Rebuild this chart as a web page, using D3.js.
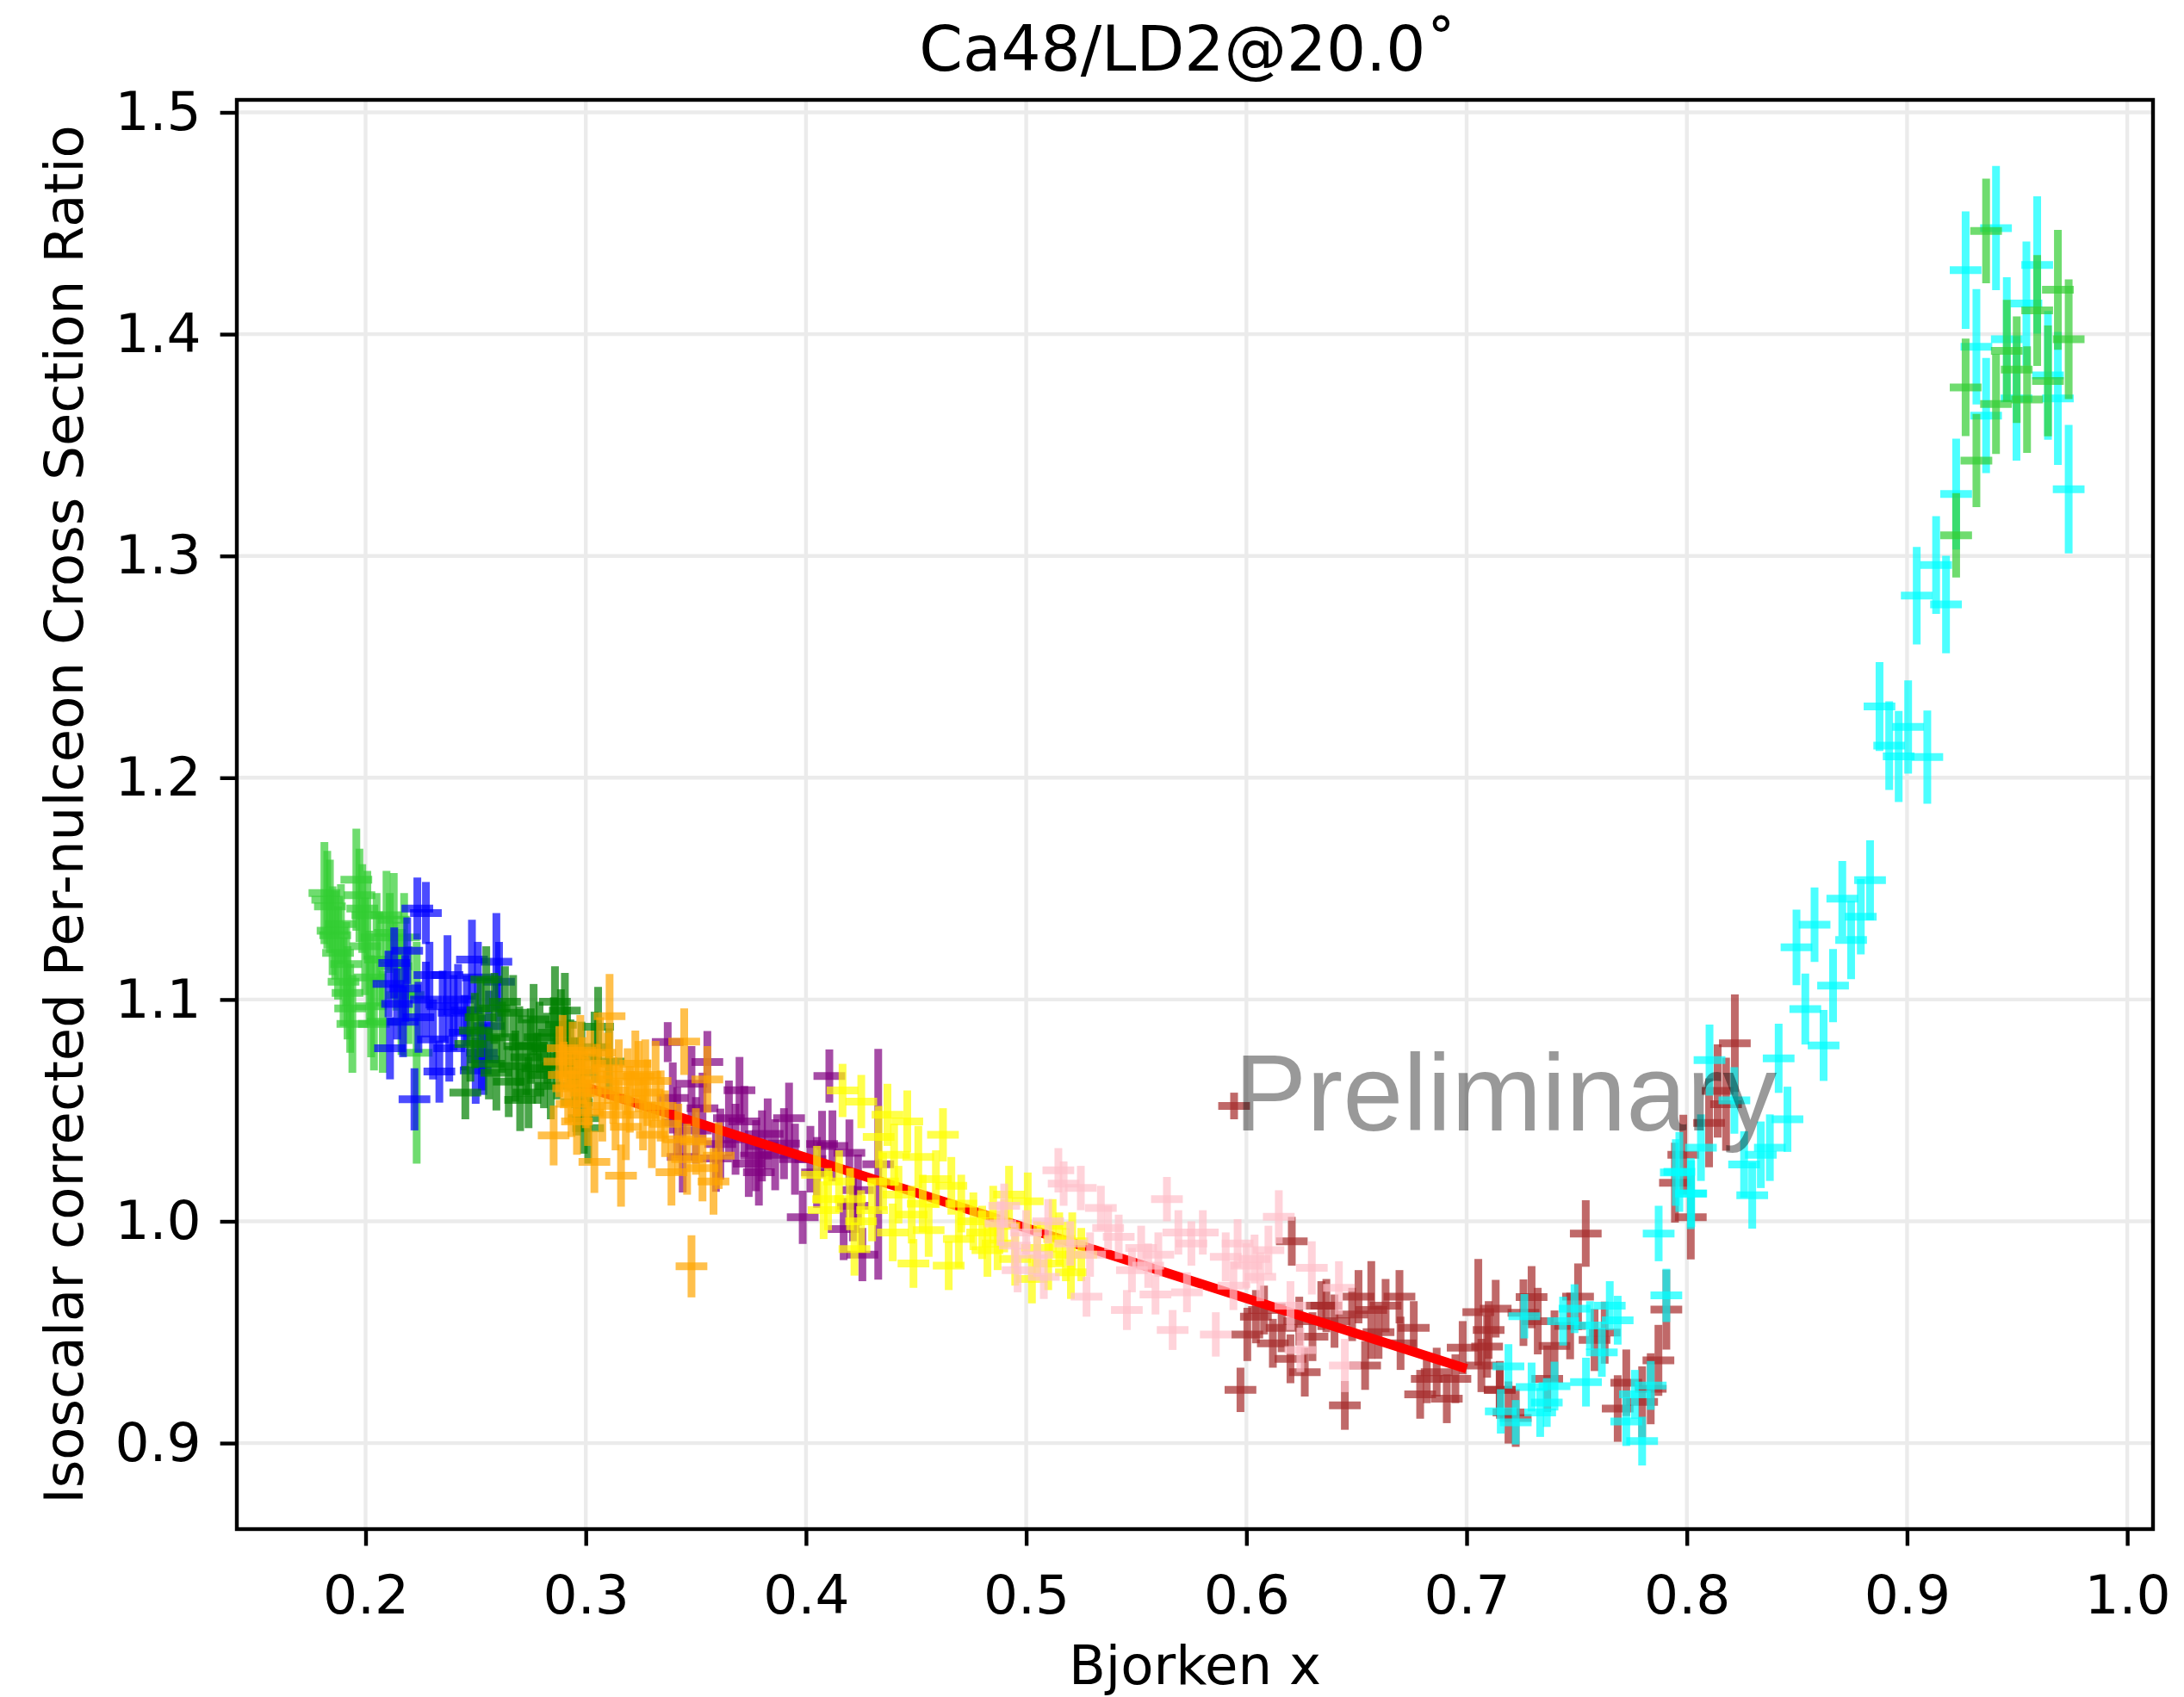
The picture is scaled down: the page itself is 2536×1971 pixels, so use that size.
<!DOCTYPE html>
<html>
<head>
<meta charset="utf-8">
<script src="https://cdn.jsdelivr.net/npm/d3@7"></script>
<style>
  html, body { margin: 0; padding: 0; background: #ffffff; }
  svg { display: block; }
</style>
</head>
<body>
<svg id="chart" width="2536" height="1971"></svg>
<script>
// Ca48 / LD2 isoscalar-corrected per-nucleon cross-section ratio at 20 degrees.
// One series per spectrometer momentum setting; each point is [x_Bj, ratio, ratio uncertainty].

const setA = [ // limegreen, lowest momentum setting
  [0.1813,1.148,0.023],[0.1826,1.145,0.022],[0.1838,1.142,0.021],[0.1850,1.131,0.020],
  [0.1862,1.129,0.020],[0.1875,1.121,0.021],[0.1888,1.134,0.018],[0.1900,1.108,0.020],
  [0.1912,1.116,0.019],[0.1918,1.103,0.021],[0.1930,1.096,0.020],[0.1940,1.089,0.022],
  [0.1958,1.154,0.023],[0.1972,1.147,0.021],[0.1985,1.141,0.020],[0.1998,1.124,0.022],
  [0.2008,1.138,0.020],[0.2018,1.110,0.021],[0.2025,1.097,0.023],[0.2038,1.089,0.021],
  [0.2050,1.128,0.020],[0.2065,1.118,0.021],[0.2078,1.090,0.023],[0.2095,1.138,0.020],
  [0.2110,1.130,0.018],[0.2128,1.136,0.021],[0.2140,1.115,0.020],[0.2163,1.102,0.027],
  [0.2175,1.128,0.020],[0.2195,1.102,0.022],[0.2232,1.076,0.050]
];
const setB = [ // blue
  [0.2104,1.107,0.015],[0.2111,1.078,0.014],[0.2130,1.1165,0.016],[0.2143,1.098,0.016],
  [0.2170,1.090,0.016],[0.2180,1.105,0.015],[0.2189,1.122,0.015],[0.2222,1.055,0.014],
  [0.2235,1.141,0.014],[0.2240,1.092,0.016],[0.2274,1.139,0.014],[0.2274,1.100,0.017],
  [0.2290,1.111,0.015],[0.2306,1.082,0.018],[0.2335,1.0675,0.014],[0.2350,1.097,0.016],
  [0.2372,1.111,0.018],[0.2380,1.078,0.015],[0.2400,1.094,0.017],[0.2420,1.100,0.016],
  [0.2450,1.085,0.017],[0.2460,1.095,0.016],[0.2483,1.118,0.018],[0.2500,1.068,0.015],
  [0.2510,1.110,0.016],[0.2528,1.076,0.017],[0.2535,1.073,0.016],[0.2560,1.088,0.016],
  [0.2594,1.117,0.022],[0.2606,1.108,0.018]
];
const setC = [ // green
  [0.2453,1.058,0.012],[0.2476,1.080,0.017],[0.2496,1.086,0.017],[0.2522,1.092,0.018],
  [0.2548,1.109,0.015],[0.2560,1.071,0.016],[0.2585,1.096,0.016],[0.2594,1.067,0.017],
  [0.2620,1.083,0.016],[0.2633,1.099,0.016],[0.2650,1.063,0.016],[0.2670,1.094,0.017],
  [0.2680,1.070,0.016],[0.2698,1.079,0.018],[0.2702,1.0547,0.014],[0.2730,1.074,0.017],
  [0.2740,1.058,0.016],[0.2750,1.079,0.017],[0.2763,1.091,0.016],[0.2780,1.069,0.016],
  [0.2790,1.083,0.016],[0.2810,1.066,0.015],[0.2825,1.078,0.016],[0.2841,1.061,0.015],
  [0.2855,1.085,0.016],[0.2860,1.099,0.016],[0.2870,1.070,0.015],[0.2887,1.0886,0.016],
  [0.2905,1.095,0.017],[0.2915,1.081,0.016],[0.2930,1.075,0.016],[0.2950,1.067,0.016],
  [0.2959,1.0537,0.015],[0.2980,1.074,0.016],[0.2991,1.0465,0.016],[0.3011,1.042,0.016],
  [0.3040,1.0785,0.016],[0.3056,1.0877,0.018],[0.3105,1.072,0.015]
];
const setD = [ // orange
  [0.2854,1.0387,0.0135],[0.2880,1.072,0.016],[0.2895,1.078,0.015],[0.2900,1.066,0.015],
  [0.2920,1.060,0.016],[0.2935,1.053,0.015],[0.2940,1.075,0.015],[0.2960,1.062,0.015],
  [0.2960,1.045,0.015],[0.2975,1.077,0.016],[0.2985,1.068,0.015],[0.3000,1.058,0.016],
  [0.3010,1.049,0.015],[0.3020,1.071,0.015],[0.3039,1.0268,0.014],[0.3050,1.064,0.016],
  [0.3065,1.076,0.016],[0.3075,1.052,0.016],[0.3100,1.069,0.016],[0.3108,1.0925,0.019],
  [0.3125,1.059,0.015],[0.3135,1.048,0.016],[0.3150,1.066,0.016],[0.3160,1.0206,0.014],
  [0.3182,1.0426,0.015],[0.3190,1.063,0.015],[0.3200,1.055,0.015],[0.3225,1.071,0.015],
  [0.3239,1.0653,0.016],[0.3260,1.048,0.016],[0.3270,1.066,0.016],[0.3280,1.058,0.015],
  [0.3300,1.039,0.015],[0.3317,1.0633,0.018],[0.3340,1.052,0.016],[0.3360,1.044,0.015],
  [0.3389,1.0221,0.015],[0.3420,1.037,0.016],[0.3447,1.081,0.015],[0.3460,1.028,0.016],
  [0.3480,0.9797,0.014],[0.3500,1.036,0.015],[0.3530,1.024,0.015],[0.3552,1.064,0.015],
  [0.3580,1.018,0.015],[0.3604,1.0296,0.015]
];
const setE = [ // purple
  [0.3372,1.0808,0.009],[0.3395,1.0556,0.016],[0.3415,1.0445,0.016],[0.3440,1.029,0.016],
  [0.3480,1.062,0.017],[0.3500,1.041,0.015],[0.3530,1.051,0.016],[0.3552,1.0718,0.014],
  [0.3591,1.0283,0.015],[0.3611,1.0348,0.016],[0.3650,1.0465,0.017],[0.3680,1.037,0.016],
  [0.3698,1.0591,0.015],[0.3720,1.045,0.016],[0.3740,1.026,0.015],[0.3773,1.0296,0.016],
  [0.3786,1.0221,0.015],[0.3800,1.034,0.016],[0.3826,1.0394,0.016],[0.3860,1.030,0.016],
  [0.3900,1.035,0.016],[0.3923,1.0465,0.016],[0.3950,1.028,0.016],[0.3985,1.0018,0.012],
  [0.4020,1.028,0.015],[0.4050,1.022,0.016],[0.4073,1.0348,0.015],[0.4106,1.0655,0.012],
  [0.4120,1.034,0.016],[0.4171,0.9965,0.014],[0.4197,1.0309,0.015],[0.4213,1.0070,0.016],
  [0.4236,1.0141,0.016],[0.4256,0.985,0.012],[0.4328,1.0257,0.052]
];
const setF = [ // yellow
  [0.4050,1.021,0.013],[0.4080,1.005,0.013],[0.4100,1.010,0.014],[0.4150,1.018,0.014],
  [0.4166,1.059,0.012],[0.4200,1.010,0.014],[0.4220,0.9875,0.012],[0.4250,1.000,0.014],
  [0.4251,1.054,0.012],[0.4300,1.005,0.014],[0.4330,1.038,0.014],[0.4350,1.018,0.013],
  [0.4370,1.048,0.014],[0.4394,0.995,0.013],[0.4400,1.030,0.014],[0.4420,1.012,0.013],
  [0.4460,1.045,0.014],[0.4480,1.003,0.013],[0.4488,0.981,0.011],[0.4510,1.029,0.014],
  [0.4530,1.008,0.013],[0.4557,0.996,0.012],[0.4590,1.019,0.013],[0.4622,1.039,0.012],
  [0.4648,0.980,0.011],[0.4660,1.016,0.013],[0.4694,0.992,0.013],[0.4705,1.008,0.013],
  [0.4760,1.000,0.013],[0.4800,0.995,0.012],[0.4824,0.987,0.012],[0.4850,1.003,0.013],
  [0.4870,0.990,0.012],[0.4900,0.998,0.012],[0.4922,1.012,0.013],[0.4950,0.983,0.012],
  [0.5007,1.009,0.013],[0.5026,0.974,0.011],[0.5050,0.988,0.012],[0.5100,0.981,0.012],
  [0.5120,0.998,0.012],[0.5150,0.992,0.012],[0.5180,0.985,0.012],[0.5203,0.977,0.012],
  [0.5209,0.991,0.013],[0.5250,0.985,0.012]
];
const setG = [ // pink
  [0.4883,0.999,0.010],[0.4900,1.007,0.010],[0.4948,0.989,0.010],[0.4961,0.978,0.010],
  [0.5000,0.995,0.010],[0.5050,0.985,0.010],[0.5080,0.975,0.010],[0.5100,1.000,0.010],
  [0.5146,1.023,0.010],[0.5170,1.017,0.010],[0.5200,0.990,0.010],[0.5248,1.015,0.010],
  [0.5274,0.966,0.009],[0.5290,0.985,0.010],[0.5339,1.006,0.010],[0.5372,0.997,0.010],
  [0.5420,0.993,0.010],[0.5457,0.960,0.009],[0.5480,0.978,0.010],[0.5522,0.988,0.010],
  [0.5554,0.980,0.010],[0.5587,0.967,0.009],[0.5600,0.985,0.010],[0.5639,1.010,0.010],
  [0.5665,0.951,0.009],[0.5691,0.995,0.010],[0.5730,0.968,0.009],[0.5750,0.990,0.010],
  [0.5802,0.995,0.010],[0.5861,0.949,0.010],[0.5906,0.984,0.011],[0.5941,0.971,0.011],
  [0.5960,0.990,0.011],[0.6000,0.980,0.010],[0.6037,0.983,0.011],[0.6063,0.975,0.011],
  [0.6100,0.987,0.011],[0.6147,1.002,0.012],[0.6200,0.962,0.011],[0.6245,0.942,0.010],
  [0.6297,0.979,0.012],[0.6420,0.970,0.012],[0.6447,0.935,0.012]
];
const setH = [ // brown
  [0.5944,1.052,0.006],[0.5973,0.924,0.010],[0.6004,0.949,0.012],[0.6043,0.957,0.012],
  [0.6080,0.960,0.011],[0.6120,0.945,0.011],[0.6160,0.952,0.011],[0.6200,0.938,0.011],
  [0.6206,0.991,0.011],[0.6240,0.955,0.011],[0.6265,0.932,0.011],[0.6300,0.948,0.011],
  [0.6340,0.962,0.011],[0.6363,0.962,0.012],[0.6400,0.955,0.012],[0.6447,0.917,0.011],
  [0.6480,0.958,0.012],[0.6509,0.966,0.012],[0.6539,0.935,0.011],[0.6567,0.960,0.022],
  [0.6600,0.950,0.012],[0.6632,0.962,0.012],[0.6695,0.966,0.012],[0.6700,0.945,0.012],
  [0.6760,0.952,0.012],[0.6789,0.922,0.011],[0.6819,0.929,0.011],[0.6864,0.932,0.011],
  [0.6910,0.920,0.011],[0.6949,0.929,0.011],[0.6982,0.943,0.012],[0.7053,0.959,0.024],
  [0.7067,0.935,0.012],[0.7093,0.9435,0.014],[0.7100,0.951,0.013],[0.7132,0.9606,0.013],
  [0.7150,0.924,0.011],[0.7151,0.924,0.013],[0.7190,0.9138,0.014],[0.7223,0.9113,0.013],
  [0.7258,0.9588,0.015],[0.7295,0.9658,0.014],[0.7323,0.955,0.015],[0.7366,0.929,0.015],
  [0.7399,0.9438,0.016],[0.7470,0.9528,0.015],[0.7506,0.966,0.015],[0.7541,0.9945,0.015],
  [0.7581,0.9465,0.014],[0.7627,0.9498,0.014],[0.7686,0.9156,0.015],[0.7725,0.9272,0.015],
  [0.7797,0.9186,0.016],[0.7836,0.9245,0.016],[0.7871,0.9373,0.016],[0.7907,0.9602,0.018],
  [0.7946,1.0174,0.018],[0.7984,1.030,0.018],[0.8018,1.0018,0.019],[0.8101,1.0444,0.020],
  [0.8140,1.0588,0.021],[0.8178,1.0528,0.021],[0.8218,1.0803,0.022]
];
const setI = [ // cyan
  [0.7155,0.9143,0.010],[0.7190,0.9346,0.010],[0.7223,0.9094,0.010],[0.7262,0.9572,0.010],
  [0.7295,0.9253,0.011],[0.7334,0.9138,0.011],[0.7364,0.9183,0.011],[0.7399,0.9257,0.011],
  [0.7438,0.955,0.011],[0.7490,0.9606,0.011],[0.7542,0.9275,0.011],[0.7560,0.953,0.011],
  [0.7614,0.9409,0.011],[0.7650,0.962,0.011],[0.7686,0.9554,0.011],[0.7725,0.9097,0.011],
  [0.7764,0.922,0.011],[0.7797,0.9009,0.011],[0.7836,0.926,0.011],[0.7872,0.9945,0.0125],
  [0.7907,0.9666,0.012],[0.7950,1.022,0.015],[0.7966,1.0223,0.018],[0.8018,1.0125,0.016],
  [0.8020,1.0125,0.015],[0.8064,1.0332,0.015],[0.8103,1.0727,0.016],[0.8216,1.0545,0.015],
  [0.8260,1.0256,0.015],[0.8297,1.0117,0.015],[0.8336,1.030,0.015],[0.8377,1.0332,0.015],
  [0.8417,1.0735,0.0156],[0.8457,1.046,0.0147],[0.8498,1.1235,0.017],[0.8538,1.0957,0.016],
  [0.8580,1.1337,0.0168],[0.8621,1.0793,0.016],[0.8664,1.1063,0.0165],[0.8706,1.1455,0.017],
  [0.8746,1.1268,0.0176],[0.8790,1.1373,0.017],[0.8832,1.1538,0.018],[0.8875,1.2321,0.020],
  [0.8919,1.2145,0.020],[0.8962,1.2096,0.0205],[0.9005,1.2229,0.021],[0.9044,1.2821,0.022],
  [0.9092,1.2093,0.021],[0.9132,1.2959,0.022],[0.9177,1.2781,0.022],[0.9223,1.3279,0.025],
  [0.9266,1.4289,0.0265],[0.9315,1.3943,0.026],[0.9359,1.3633,0.026],[0.9404,1.4478,0.028],
  [0.9453,1.3977,0.028],[0.9497,1.371,0.028],[0.9542,1.4138,0.028],[0.9591,1.4312,0.031],
  [0.9640,1.3814,0.029],[0.9685,1.371,0.030],[0.9734,1.3301,0.029]
];
const setJ = [ // limegreen, highest momentum setting
  [0.9223,1.3093,0.019],[0.9266,1.376,0.022],[0.9315,1.343,0.021],[0.9359,1.4465,0.0236],
  [0.9404,1.3685,0.0225],[0.9453,1.3925,0.023],[0.9498,1.384,0.024],[0.9545,1.3705,0.024],
  [0.9591,1.4107,0.025],[0.9640,1.3789,0.025],[0.9685,1.420,0.027],[0.9734,1.3977,0.027]
];

const seriesColors = ["limegreen", "blue", "green", "orange", "purple",
                      "yellow", "pink", "brown", "cyan", "limegreen"];
const xHalfBin = 0.0072;            // half bin width in x, drawn as the horizontal bar

// Linear fit over 0.3 < x < 0.7
const fitX = [0.30, 0.70];
const fitY = [1.0605, 0.9335];

const xTicks = [0.2, 0.3, 0.4, 0.5, 0.6, 0.7, 0.8, 0.9, 1.0];
const yTicks = [0.9, 1.0, 1.1, 1.2, 1.3, 1.4, 1.5];

const titleText = "Ca48/LD2@20.0\u02DA";
const xLabel = "Bjorken x";
const yLabel = "Isoscalar corrected Per-nulceon Cross Section Ratio";
const watermark = "Preliminary";

// ---- layout ----
const W = 2536, H = 1971;
const plot = { left: 275, right: 2500, top: 116, bottom: 1776 };
const lw = 4.4;            // spine / tick width
const tickLen = 19.4;
const fontMain = "'DejaVu Sans', sans-serif";

const svg = d3.select("#chart");
svg.append("rect").attr("width", W).attr("height", H).attr("fill", "#ffffff");

const x = d3.scaleLinear().domain([0.14153, 1.01169]).range([plot.left, plot.right]);
const y = d3.scaleLinear().domain([0.86122, 1.50563]).range([plot.bottom, plot.top]);

// grid
const grid = svg.append("g").attr("class", "grid");
grid.selectAll("line.gx").data(xTicks).join("line")
  .attr("x1", d => x(d)).attr("x2", d => x(d))
  .attr("y1", plot.top).attr("y2", plot.bottom)
  .attr("stroke", "#ebebeb").attr("stroke-width", lw);
grid.selectAll("line.gy").data(yTicks).join("line")
  .attr("x1", plot.left).attr("x2", plot.right)
  .attr("y1", d => y(d)).attr("y2", d => y(d))
  .attr("stroke", "#ebebeb").attr("stroke-width", lw);

// clip region for data
svg.append("clipPath").attr("id", "plotClip").append("rect")
  .attr("x", plot.left).attr("y", plot.top)
  .attr("width", plot.right - plot.left).attr("height", plot.bottom - plot.top);

const dataLayer = svg.append("g").attr("clip-path", "url(#plotClip)");

const allSets = [setA, setB, setC, setD, setE, setF, setG, setH, setI, setJ];

function drawSet(i) {
  const pts = allSets[i];
  const g = dataLayer.append("g")
    .attr("stroke", seriesColors[i])
    .attr("stroke-opacity", 0.7)
    .attr("stroke-width", 9)
    .attr("stroke-linecap", "butt");
  g.selectAll("line.h").data(pts).join("line").attr("class", "h")
    .attr("x1", d => x(d[0] - xHalfBin)).attr("x2", d => x(d[0] + xHalfBin))
    .attr("y1", d => y(d[1])).attr("y2", d => y(d[1]));
  g.selectAll("line.v").data(pts).join("line").attr("class", "v")
    .attr("x1", d => x(d[0])).attr("x2", d => x(d[0]))
    .attr("y1", d => y(d[1] - d[2])).attr("y2", d => y(d[1] + d[2]));
}

function drawFit() {
  dataLayer.append("line")
    .attr("x1", x(fitX[0])).attr("y1", y(fitY[0]))
    .attr("x2", x(fitX[1])).attr("y2", y(fitY[1]))
    .attr("stroke", "red").attr("stroke-width", 11);
}

// stacking: fit line sits above most settings, below orange / yellow / pink
[0, 1, 2, 4, 7, 8, 9].forEach(drawSet);
drawFit();
[3, 5, 6].forEach(drawSet);

// watermark
svg.append("text")
  .attr("x", x(0.5945)).attr("y", y(1.041))
  .attr("font-family", "'Liberation Sans', Arial, sans-serif")
  .attr("font-size", 126)
  .attr("fill", "#000000").attr("fill-opacity", 0.4)
  .text(watermark);

// axes
const tickFont = 63;
const xAxis = d3.axisBottom(x).tickValues(xTicks).tickFormat(d3.format(".1f"))
  .tickSize(tickLen).tickPadding(34);
const yAxis = d3.axisLeft(y).tickValues(yTicks).tickFormat(d3.format(".1f"))
  .tickSize(tickLen).tickPadding(22);

const gx = svg.append("g").attr("transform", `translate(0,${plot.bottom})`).call(xAxis);
const gy = svg.append("g").attr("transform", `translate(${plot.left},0)`).call(yAxis);
[gx, gy].forEach(g => {
  g.select(".domain").remove();
  g.selectAll(".tick line").attr("stroke", "#000").attr("stroke-width", lw);
  g.selectAll(".tick text").attr("fill", "#000")
    .attr("font-family", fontMain).attr("font-size", tickFont);
});

// frame
svg.append("rect")
  .attr("x", plot.left).attr("y", plot.top)
  .attr("width", plot.right - plot.left).attr("height", plot.bottom - plot.top)
  .attr("fill", "none").attr("stroke", "#000").attr("stroke-width", lw);

// title and labels
svg.append("text")
  .attr("x", (plot.left + plot.right) / 2 - 8).attr("y", 82)
  .attr("text-anchor", "middle")
  .attr("font-family", fontMain).attr("font-size", 72.5)
  .text(titleText);

svg.append("text")
  .attr("x", (plot.left + plot.right) / 2).attr("y", 1956)
  .attr("text-anchor", "middle")
  .attr("font-family", fontMain).attr("font-size", 62.5)
  .text(xLabel);

svg.append("text")
  .attr("transform", `translate(96,${(plot.top + plot.bottom) / 2}) rotate(-90)`)
  .attr("text-anchor", "middle")
  .attr("font-family", fontMain).attr("font-size", 62.5)
  .text(yLabel);
</script>
</body>
</html>
